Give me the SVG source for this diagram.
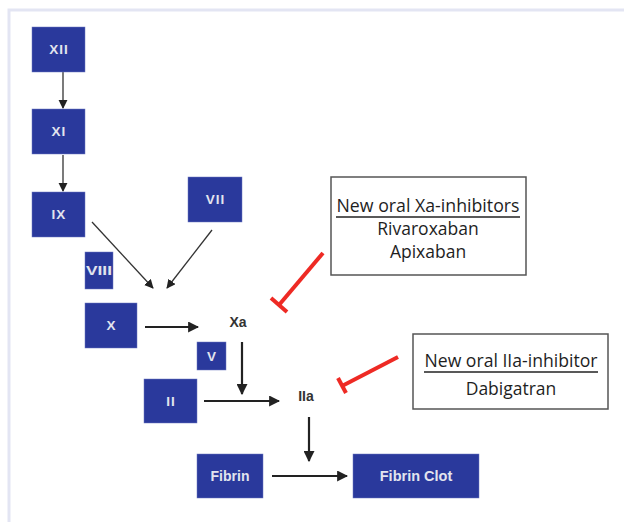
<svg xmlns="http://www.w3.org/2000/svg" width="624" height="522" viewBox="0 0 624 522">
<defs>
<marker id="ah" viewBox="0 0 10 10" refX="9" refY="5" markerWidth="5" markerHeight="5" markerUnits="strokeWidth" orient="auto"><path d="M0,0 L10,5 L0,10 z" fill="#222"/></marker>
<marker id="ahs" viewBox="0 0 10 10" refX="9" refY="5" markerWidth="7" markerHeight="7" markerUnits="strokeWidth" orient="auto"><path d="M0,0 L10,5 L0,10 z" fill="#222"/></marker>
<style>
.n{fill:#2a399c;stroke:#6d78c0;stroke-width:0.5}
.nt{font-family:"Liberation Sans",Arial,sans-serif;font-weight:bold;font-size:13.5px;fill:#e2e4ee;text-anchor:middle}
.ls{letter-spacing:1px}
.lt{font-family:"Liberation Sans",Arial,sans-serif;font-weight:bold;font-size:14px;fill:#333;text-anchor:middle}
.c{stroke:#222;stroke-width:2.2;fill:none;marker-end:url(#ah)}
.ct{stroke:#333;stroke-width:1.3;fill:none;marker-end:url(#ahs)}
.inh{stroke:#ee2a24;stroke-width:4;fill:none}
.box{fill:#fff;stroke:#555;stroke-width:1.5}
.bt{font-family:"Open Sans","Liberation Sans",sans-serif;font-size:17.5px;fill:#1e1e1e;text-anchor:middle}
</style>
</defs>
<rect x="0" y="0" width="624" height="522" fill="#fff"/>
<path d="M9,522 V10 H624" fill="none" stroke="#e3e5f3" stroke-width="3"/>

<g id="connectors">
<line class="ct" x1="63" y1="72" x2="63" y2="108"/>
<line class="ct" x1="63" y1="155" x2="63" y2="191"/>
<line class="ct" x1="92" y1="222" x2="153" y2="288"/>
<line class="ct" x1="212" y1="230" x2="167" y2="288"/>
<line class="c" x1="145" y1="327" x2="198" y2="327"/>
<line class="c" x1="242" y1="342" x2="242" y2="394"/>
<line class="c" x1="204" y1="401" x2="279" y2="401"/>
<line class="c" x1="309" y1="417" x2="309" y2="461"/>
<line class="c" x1="272" y1="476" x2="347" y2="476"/>
<g id="inhibitor-xa">
<line class="inh" x1="323" y1="253" x2="279" y2="305"/>
<line class="inh" x1="271" y1="298" x2="287" y2="312"/>
</g>
<g id="inhibitor-iia">
<line class="inh" x1="398" y1="357" x2="342" y2="386"/>
<line class="inh" x1="338" y1="378" x2="346" y2="393"/>
</g>
</g>

<g id="XII"><rect class="n" x="32" y="27" width="53" height="45"/><text class="nt ls" x="59" y="54">XII</text></g>
<g id="XI"><rect class="n" x="32" y="109" width="53" height="45"/><text class="nt ls" x="59" y="136">XI</text></g>
<g id="IX"><rect class="n" x="32" y="192" width="53" height="45"/><text class="nt ls" x="59" y="219">IX</text></g>
<g id="VII"><rect class="n" x="188" y="177" width="54" height="45"/><text class="nt ls" x="215.5" y="204">VII</text></g>
<g id="VIII"><rect class="n" x="85" y="252" width="28" height="37"/><text class="nt" x="99" y="275" textLength="26" lengthAdjust="spacingAndGlyphs">VIII</text></g>
<g id="X"><rect class="n" x="85" y="303" width="52" height="45"/><text class="nt" x="111" y="330">X</text></g>
<g id="Xa"><text class="lt" x="238" y="327">Xa</text></g>
<g id="V"><rect class="n" x="197" y="342" width="29" height="28"/><text class="nt" x="211.5" y="361">V</text></g>
<g id="II"><rect class="n" x="144" y="379" width="53" height="44"/><text class="nt ls" x="171" y="406">II</text></g>
<g id="IIa"><text class="lt" x="306" y="401">IIa</text></g>
<g id="Fibrin"><rect class="n" x="197" y="454" width="66" height="44"/><text class="nt" x="230" y="481" style="font-size:14px">Fibrin</text></g>
<g id="FibrinClot"><rect class="n" x="353" y="454" width="126" height="44"/><text class="nt" x="416" y="481" style="font-size:14.5px">Fibrin Clot</text></g>

<g id="xa-inhibitors">
<rect class="box" x="331" y="177" width="195" height="98"/>
<text class="bt" x="428" y="212" textLength="183" lengthAdjust="spacingAndGlyphs">New oral Xa-inhibitors</text>
<line x1="336" y1="217" x2="520" y2="217" stroke="#222" stroke-width="1.4"/>
<text class="bt" x="428" y="235">Rivaroxaban</text>
<text class="bt" x="428" y="258">Apixaban</text>
</g>
<g id="iia-inhibitor">
<rect class="box" x="413" y="334" width="195" height="75"/>
<text class="bt" x="511" y="367" textLength="173" lengthAdjust="spacingAndGlyphs">New oral IIa-inhibitor</text>
<line x1="424" y1="372" x2="598" y2="372" stroke="#222" stroke-width="1.4"/>
<text class="bt" x="511" y="395">Dabigatran</text>
</g>
</svg>
